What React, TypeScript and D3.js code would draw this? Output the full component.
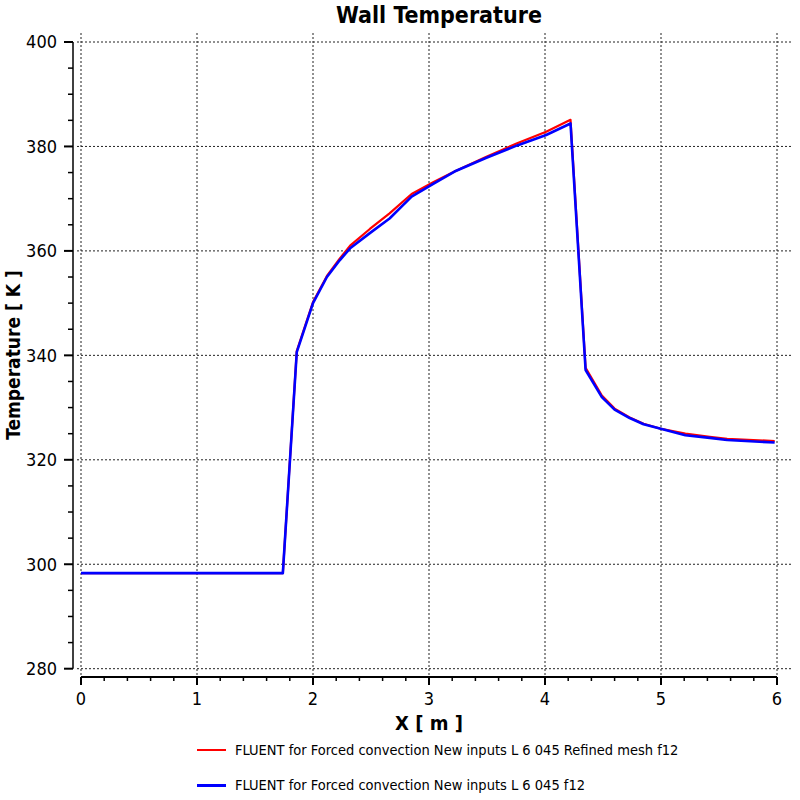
import React from 'react';
import * as d3 from 'd3';

// values
const xRefined = [0, 1.74, 1.86, 2.0, 2.12, 2.23, 2.32, 2.49, 2.66, 2.85, 3.04, 3.22, 3.49, 3.76, 4.01, 4.22, 4.35, 4.49, 4.6, 4.73, 4.85, 4.99, 5.21, 5.42, 5.57, 5.98];
const tRefined = [298.3, 298.3, 340.8, 350.2, 355.2, 358.5, 361.0, 364.2, 367.2, 370.9, 373.2, 375.2, 378.0, 380.6, 382.8, 385.1, 337.6, 332.3, 329.8, 328.1, 326.9, 326.0, 325.0, 324.4, 324.0, 323.6];

const xCoarse = [0, 1.74, 1.86, 2.0, 2.12, 2.23, 2.32, 2.49, 2.66, 2.85, 3.04, 3.22, 3.49, 3.76, 4.01, 4.22, 4.35, 4.49, 4.6, 4.73, 4.85, 4.99, 5.21, 5.42, 5.57, 5.98];
const tCoarse = [298.3, 298.3, 340.6, 350.0, 355.0, 358.2, 360.5, 363.4, 366.2, 370.4, 372.9, 375.2, 377.8, 380.2, 382.2, 384.4, 337.2, 332.0, 329.6, 328.0, 326.8, 326.0, 324.7, 324.2, 323.8, 323.3];

const xTicks = [0, 1, 2, 3, 4, 5, 6];
const yTicks = [280, 300, 320, 340, 360, 380, 400];

const seriesNames = [
  'FLUENT for Forced convection New inputs L 6 045 Refined mesh f12',
  'FLUENT for Forced convection New inputs L 6 045 f12',
];

const font = '"DejaVu Sans Condensed", "DejaVu Sans", sans-serif';

export default function App() {
  const x = d3.scaleLinear().domain([0, 6]).range([81, 777]);
  const y = d3.scaleLinear().domain([280, 400]).range([668.7, 42]);

  const plot = { left: 77, right: 792, top: 33, bottom: 677 };

  const line = d3.line<[number, number]>()
    .x(d => x(d[0]))
    .y(d => y(d[1]));

  const refined = xRefined.map((v, i) => [v, tRefined[i]] as [number, number]);
  const coarse = xCoarse.map((v, i) => [v, tCoarse[i]] as [number, number]);

  const xMinor = d3.range(0, 6.0001, 0.2).filter(v => Math.abs(v - Math.round(v)) > 0.01);
  const yMinor = d3.range(280, 400.001, 5).filter(v => v % 20 !== 0);

  return (
    <svg width={800} height={800} style={{ position: 'absolute', left: 0, top: 0 }} fontFamily={font}>
      <rect width={800} height={800} fill="#fff" />

      {/* grid */}
      <g stroke="#222" strokeWidth={1} strokeDasharray="2,2">
        {xTicks.map(t => (
          <line key={'gx' + t} x1={x(t)} x2={x(t)} y1={plot.top} y2={plot.bottom} />
        ))}
        {yTicks.map(t => (
          <line key={'gy' + t} x1={plot.left} x2={plot.right} y1={y(t)} y2={y(t)} />
        ))}
      </g>

      {/* y axis */}
      <line x1={73} x2={73} y1={y(400)} y2={y(280)} stroke="#000" strokeWidth={1.5} />
      {yTicks.map(t => (
        <g key={'yt' + t}>
          <line x1={64} x2={73} y1={y(t)} y2={y(t)} stroke="#000" strokeWidth={2} />
          <text x={57} y={y(t)} dy="0.36em" textAnchor="end" fontSize={18}>{t}</text>
        </g>
      ))}
      {yMinor.map(t => (
        <line key={'ym' + t} x1={68} x2={73} y1={y(t)} y2={y(t)} stroke="#000" strokeWidth={1.5} />
      ))}

      {/* x axis */}
      <line x1={x(0)} x2={x(6)} y1={677} y2={677} stroke="#000" strokeWidth={2} />
      {xTicks.map(t => (
        <g key={'xt' + t}>
          <line x1={x(t)} x2={x(t)} y1={677} y2={685} stroke="#000" strokeWidth={2} />
          <text x={x(t)} y={705} textAnchor="middle" fontSize={18}>{t}</text>
        </g>
      ))}
      {xMinor.map(t => (
        <line key={'xm' + t} x1={x(t)} x2={x(t)} y1={677} y2={681} stroke="#000" strokeWidth={1.5} />
      ))}

      {/* series */}
      <path d={line(refined) || ''} fill="none" stroke="#ff0000" strokeWidth={2.2} strokeLinejoin="round" />
      <path d={line(coarse) || ''} fill="none" stroke="#0000ff" strokeWidth={2.6} strokeLinejoin="round" />

      {/* titles */}
      <text x={439} y={23} textAnchor="middle" fontSize={23} fontWeight="bold">Wall Temperature</text>
      <text x={429} y={730} textAnchor="middle" fontSize={20} fontWeight="bold">X [ m ]</text>
      <text transform="translate(20,355) rotate(-90)" textAnchor="middle" fontSize={19} fontWeight="bold">Temperature [ K ]</text>

      {/* legend */}
      <line x1={197} x2={226} y1={750} y2={750} stroke="#ff0000" strokeWidth={2} />
      <text x={235} y={755} fontSize={14.5}>{seriesNames[0]}</text>
      <line x1={197} x2={226} y1={785.5} y2={785.5} stroke="#0000ff" strokeWidth={3} />
      <text x={235} y={790} fontSize={14.5}>{seriesNames[1]}</text>
    </svg>
  );
}
